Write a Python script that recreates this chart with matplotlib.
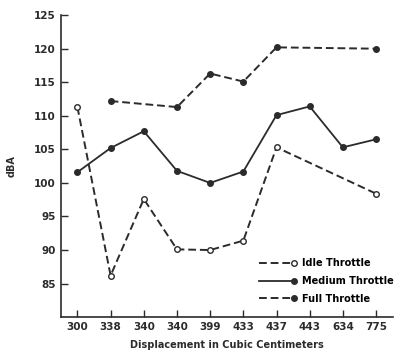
import matplotlib
matplotlib.use("Agg")
import matplotlib.pyplot as plt
import numpy as np

categories = ["300", "338", "340", "340", "399", "433", "437", "443", "634", "775"]
idle = [111.3, 86.2, 97.6, 90.1, 90.0, 91.4, 105.3, np.nan, np.nan, 98.4]
medium = [101.6, 105.2, 107.7, 101.8, 100.0, 101.7, 110.1, 111.4, 105.3, 106.5]
full = [np.nan, 112.2, np.nan, 111.3, 116.3, 115.1, 120.2, np.nan, np.nan, 120.0]
yticks = [85, 90, 95, 100, 105, 110, 115, 120, 125]

def valid(vals):
    xs = [i for i, v in enumerate(vals) if not np.isnan(v)]
    ys = [vals[i] for i in xs]
    return xs, ys

plt.rcParams['font.family'] = ['DejaVu Sans']
fig = plt.figure(figsize=(3.95, 3.52), dpi=100)
ax = fig.add_axes([0.154, 0.099, 0.84, 0.858])
col = "#2b2b2b"

x, y = valid(idle)
ax.plot(x, y, linestyle=(0, (4, 2)), color=col, lw=1.4, marker='o', ms=4,
        mfc='white', mec=col, mew=1.0, label="Idle Throttle")
x, y = valid(medium)
ax.plot(x, y, linestyle='-', color=col, lw=1.3, marker='o', ms=4,
        mfc=col, mec=col, label="Medium Throttle")
x, y = valid(full)
ax.plot(x, y, linestyle=(0, (4, 2)), color=col, lw=1.4, marker='o', ms=4,
        mfc=col, mec=col, label="Full Throttle")

ax.set_xlim(-0.5, 9.5)
ax.set_ylim(80, 125)
ax.set_xticks(range(len(categories)))
ax.set_xticklabels(categories)
ax.set_yticks(yticks)
for s in ["top", "right"]:
    ax.spines[s].set_visible(False)
for s in ["left", "bottom"]:
    ax.spines[s].set_color(col)
    ax.spines[s].set_linewidth(1.2)
ax.tick_params(direction='in', length=5, width=1, colors=col, labelsize=7.5)
for lab in ax.get_xticklabels() + ax.get_yticklabels():
    lab.set_fontweight('bold')
ax.set_ylabel("dBA", fontsize=7, fontweight='bold', color=col, labelpad=13)
ax.set_xlabel("Displacement in Cubic Centimeters", fontsize=7, fontweight='bold',
              color=col, labelpad=6)
leg = ax.legend(loc='lower right', bbox_to_anchor=(1.03, 0.015), frameon=False,
                prop={'size': 7, 'weight': 'bold'}, handlelength=3.6,
                labelspacing=0.8, handletextpad=0.8, markerfirst=True)
for h in leg.legend_handles:
    h.set_markevery([2])
fig.savefig("out.png", dpi=100, facecolor='white')
